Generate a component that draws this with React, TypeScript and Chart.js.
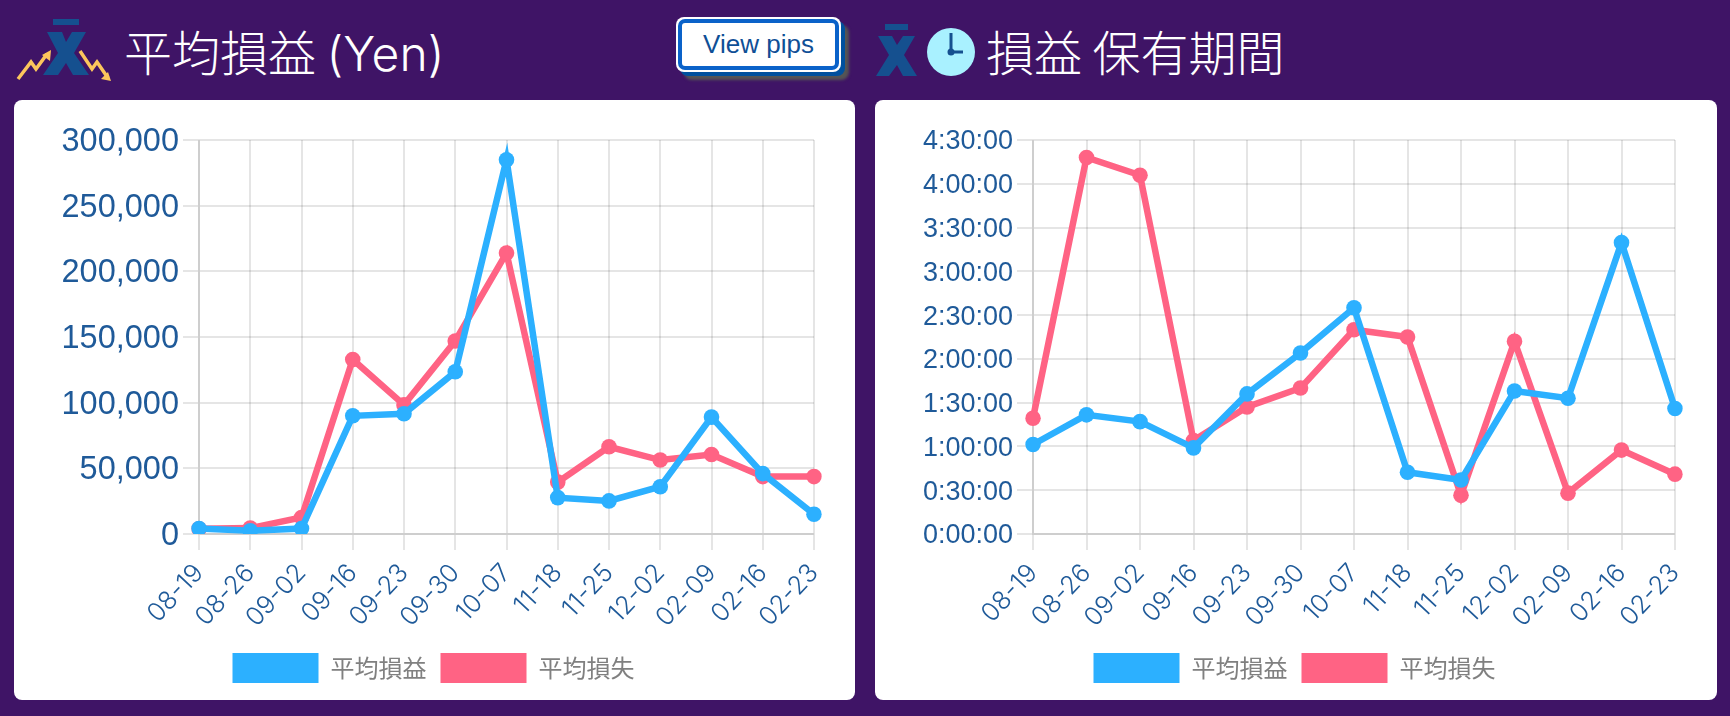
import React, { useEffect, useRef } from "react";
import { Chart, registerables } from "chart.js";

Chart.register(...registerables);

const categories = ["08-19","08-26","09-02","09-16","09-23","09-30","10-07","11-18","11-25","12-02","02-09","02-16","02-23"];
const avgProfitYen = [4200,2500,4200,90000,91600,123500,285000,27700,25200,36000,89000,46000,15000];
const avgLossYen = [4000,4500,12600,132800,98300,147000,214000,39500,66400,56300,60500,43700,43700];
const holdProfitSec = [3680,4900,4620,3540,5760,7440,9300,2540,2220,5880,5580,11980,5160];
const holdLossSec = [4760,15480,14750,3840,5220,6000,8400,8100,1590,7920,1680,3450,2460];
const profitLabel = "平均損益";
const lossLabel = "平均損失";
const BLUE = "#2cb0ff";
const RED = "#ff6384";
const TICK = "#1f5a99";
const LATIN = "'Liberation Sans', Arial, sans-serif";

function hms(v: number) {
  const h = Math.floor(v / 3600);
  const m = Math.floor((v % 3600) / 60);
  const s = Math.floor(v % 60);
  return `${h}:${String(m).padStart(2, "0")}:${String(s).padStart(2, "0")}`;
}

function LineCard(props: {
  left: number; width: number; axisWidth: number; padLeft: number; padRight: number;
  a: number[]; b: number[]; max: number; step: number; yFont: number;
  fmt: (v: number) => string;
}) {
  const ref = useRef<HTMLCanvasElement | null>(null);
  useEffect(() => {
    const grid = { color: "rgba(0,0,0,0.1)", lineWidth: 2, tickLength: 16 };
    const border = { color: "rgba(0,0,0,0.1)", width: 2 };
    const chart = new Chart(ref.current as HTMLCanvasElement, {
      type: "line",
      data: {
        labels: categories,
        datasets: [
          { label: profitLabel, data: props.a, borderColor: BLUE, backgroundColor: BLUE, borderWidth: 6.5, pointRadius: 7.8, pointBorderWidth: 0, pointBackgroundColor: BLUE, tension: 0, fill: false },
          { label: lossLabel, data: props.b, borderColor: RED, backgroundColor: RED, borderWidth: 6.5, pointRadius: 7.8, pointBorderWidth: 0, pointBackgroundColor: RED, tension: 0, fill: false },
        ],
      },
      options: {
        animation: false,
        responsive: false,
        devicePixelRatio: 1,
        layout: { padding: { top: 40, right: props.padRight, left: props.padLeft, bottom: 7 } },
        plugins: {
          tooltip: { enabled: false },
          legend: {
            position: "bottom",
            labels: {
              boxWidth: 86, boxHeight: 30, padding: 14,
              color: "#808080",
              font: { family: "'Noto Sans CJK JP', sans-serif", size: 24 },
              generateLabels: (c: any) => c.data.datasets.map((d: any, i: number) => ({
                text: d.label, fillStyle: d.backgroundColor, strokeStyle: d.backgroundColor, lineWidth: 0, datasetIndex: i, fontColor: "#808080",
              })),
            },
          },
        },
        scales: {
          x: {
            grid, border,
            afterFit: (s: any) => { s.height = 105; },
            ticks: { color: TICK, font: { family: "Inter, sans-serif", size: 25.5, weight: "300" }, minRotation: 47, maxRotation: 47, autoSkip: false, padding: 8 },
          },
          y: {
            min: 0, max: props.max,
            grid, border,
            afterFit: (s: any) => { s.width = props.axisWidth - props.padLeft; },
            ticks: {
              stepSize: props.step, color: TICK, padding: 4,
              font: { family: LATIN, size: props.yFont, lineHeight: 4 / props.yFont },
              callback: (v: any) => ["", props.fmt(Number(v))],
            },
          },
        },
      } as any,
    });
    return () => chart.destroy();
  }, []);
  return (
    <div style={{ position: "absolute", left: props.left, top: 100, width: props.width, height: 600, background: "#fff", borderRadius: 8, overflow: "hidden" }}>
      <canvas ref={ref} width={props.width} height={600} style={{ display: "block" }} />
    </div>
  );
}

const titleStyle: React.CSSProperties = {
  position: "absolute", top: 18, height: 64, lineHeight: "64px", color: "#fff", fontSize: 48, whiteSpace: "nowrap",
  fontFamily: "'Noto Sans CJK JP', sans-serif", fontWeight: 300,
};

export default function App() {
  useEffect(() => {
    document.body.style.margin = "0";
    document.body.style.background = "#3f1466";
  }, []);
  const X = "#15508f";
  const Y = "#fcc65c";
  return (
    <div style={{ position: "relative", width: 1730, height: 716, background: "#3f1466", overflow: "hidden" }}>
      <svg width={1730} height={100} style={{ position: "absolute", left: 0, top: 0 }}>
        <rect x={53} y={19} width={26} height={6} fill={X} />
        <polygon fill={X} points="47,32 62,32 66,42 72,32 86,32 74,53 89,75 73,75 66,63 58,75 43,75 58,53" />
        <polyline fill="none" stroke={Y} strokeWidth={3.5} points="18,79 31,62 36,69 47,54" />
        <polygon fill={Y} points="51,50 50,61 42,55" />
        <polyline fill="none" stroke={Y} strokeWidth={3.5} points="80,51 92,69 97,62 108,78" />
        <polygon fill={Y} points="111,81 101,79 108,72" />
        <rect x={885} y={24} width={23} height={6} fill={X} />
        <polygon fill={X} points="878,36 892,36 897,45 903,36 915,36 904,55 917,76 903,76 897,65 889,76 876,76 889,55" />
        <circle cx={951} cy={52} r={24} fill="#a9f1ff" />
        <path d="M951 33 V52 H963" stroke={X} strokeWidth={3} fill="none" />
        <circle cx={951} cy={52} r={3.5} fill={X} />
      </svg>
      <div style={{ ...titleStyle, left: 124 }}>平均損益 <span style={{ fontFamily: "Inter, sans-serif", fontWeight: 300 }}>(Yen)</span></div>
      <div style={{ ...titleStyle, left: 986 }}>損益 保有期間</div>
      <div style={{
        position: "absolute", left: 676, top: 17, width: 165, height: 55, boxSizing: "border-box", borderRadius: 8,
        background: "#fff", padding: 2, boxShadow: "4px 4px 0 #00509e, 8px 8px 3px #555",
      }}>
        <div style={{
          width: "100%", height: "100%", boxSizing: "border-box", border: "4px solid #0a62c9", borderRadius: 7,
          textAlign: "center", lineHeight: "43px", fontFamily: LATIN, fontSize: 26, color: "#0f4f96",
        }}>View pips</div>
      </div>
      <LineCard left={14} width={841} axisWidth={185} padLeft={39} padRight={41} a={avgProfitYen} b={avgLossYen} max={300000} step={50000} yFont={32.5} fmt={(v) => v.toLocaleString("en-US")} />
      <LineCard left={875} width={842} axisWidth={158} padLeft={39} padRight={42} a={holdProfitSec} b={holdLossSec} max={16200} step={1800} yFont={27} fmt={hms} />
    </div>
  );
}
